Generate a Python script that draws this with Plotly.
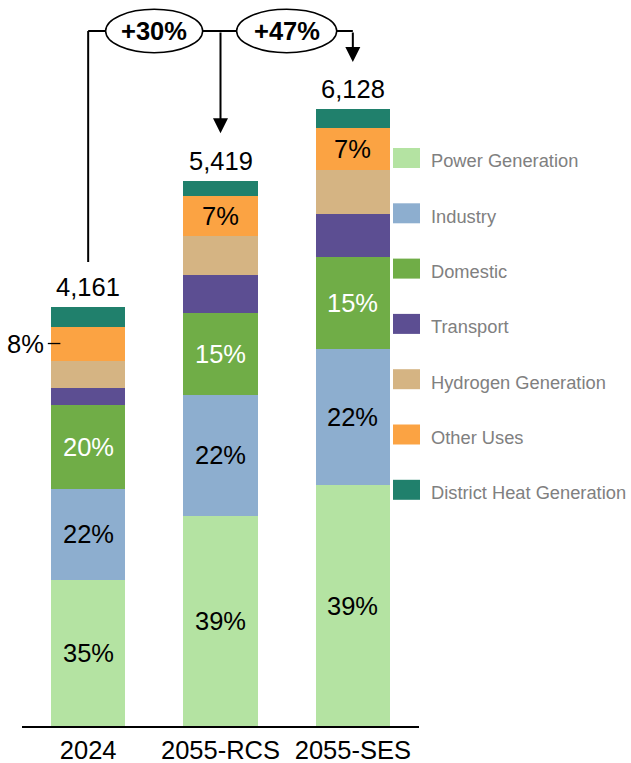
import plotly.graph_objects as go

# ---------------- data ----------------
categories = ["2024", "2055-RCS", "2055-SES"]
series_names = ["Power Generation", "Industry", "Domestic", "Transport",
                "Hydrogen Generation", "Other Uses", "District Heat Generation"]
power = [1455, 2091, 2390]
industry = [901, 1202, 1351]
domestic = [835, 808, 917]
transport = [172, 382, 427]
hydrogen = [268, 390, 441]
other_uses = [338, 394, 413]
district_heat = [192, 152, 189]
totals = [4161, 5419, 6128]
total_labels = ["4,161", "5,419", "6,128"]
power_labels = ["35%", "39%", "39%"]
industry_labels = ["22%", "22%", "22%"]
domestic_labels = ["20%", "15%", "15%"]
other_labels = ["8%", "7%", "7%"]
growth_labels = ["+30%", "+47%"]

# ---------------- style ----------------
colors = ["#b4e3a2", "#8daecf", "#70ad47", "#5c4e92", "#d5b483", "#fba343", "#20806c"]
FONT = "Arial, Liberation Sans, Helvetica, sans-serif"
FS = 25.5
W, H = 631, 763
ML, MR, MT, MB = 22, 212, 0, 37
PH = H - MT - MB
YMAX = 7213

series = [power, industry, domestic, transport, hydrogen, other_uses, district_heat]

fig = go.Figure()
for name, vals, col in zip(series_names, series, colors):
    fig.add_trace(go.Bar(x=categories, y=vals, name=name, marker=dict(color=col, line=dict(width=0)),
                         width=0.56, showlegend=False, hoverinfo="x+y+name"))

annotations = []
shapes = []

# segment labels
inside_specs = [(0, power_labels, "black"), (1, industry_labels, "black"),
                (2, domestic_labels, "white"), (5, other_labels, "black")]
for si, labels, tcol in inside_specs:
    for ci in range(len(categories)):
        base = sum(series[k][ci] for k in range(si))
        mid = base + series[si][ci] / 2
        if si == 5 and ci == 0:
            # outside label with leader line
            annotations.append(dict(x=-0.32, y=mid, xref="x", yref="y", text=labels[ci],
                                    showarrow=False, xanchor="right", yanchor="middle",
                                    font=dict(family=FONT, size=FS, color="black")))
            shapes.append(dict(type="line", xref="x", yref="y", x0=-0.305, x1=-0.21, y0=mid, y1=mid,
                               line=dict(color="black", width=1.3)))
            continue
        annotations.append(dict(x=ci, y=mid, xref="x", yref="y", text=labels[ci], showarrow=False,
                                xanchor="center", yanchor="middle",
                                font=dict(family=FONT, size=FS, color=tcol)))

# totals
for ci in range(len(categories)):
    annotations.append(dict(x=ci, y=totals[ci], xref="x", yref="y", text=total_labels[ci],
                            showarrow=False, xanchor="center", yanchor="bottom", yshift=4,
                            font=dict(family=FONT, size=FS, color="black")))

# growth bracket
LEVEL = 6905
GAP = 460
shapes.append(dict(type="line", xref="x", yref="y", x0=0, x1=0, y0=totals[0] + 449, y1=LEVEL,
                   line=dict(color="black", width=2)))
shapes.append(dict(type="line", xref="x", yref="y", x0=0, x1=2, y0=LEVEL, y1=LEVEL,
                   line=dict(color="black", width=2)))
for ci in (1, 2):
    annotations.append(dict(x=ci, y=totals[ci] + GAP + 10, xref="x", yref="y", ax=ci, ay=LEVEL,
                            axref="x", ayref="y", text="", showarrow=True, arrowhead=2,
                            arrowsize=1.5, arrowwidth=2, arrowcolor="black"))
ell = [(0.132, 0.865), (1.122, 1.878)]
for (x0, x1), lab in zip(ell, growth_labels):
    shapes.append(dict(type="circle", xref="x", yref="y", x0=x0, x1=x1, y0=6690, y1=7120,
                       fillcolor="white", line=dict(color="black", width=1.5), layer="above"))
    annotations.append(dict(x=(x0 + x1) / 2, y=LEVEL, xref="x", yref="y", text="<b>%s</b>" % lab,
                            showarrow=False, xanchor="center", yanchor="middle",
                            font=dict(family=FONT, size=FS, color="black")))

# manual legend (top to bottom)
PW = W - ML - MR
def px_x(x):
    return (x - ML) / PW
def px_y(y):
    return (H - MB - y) / PH
for i, (name, col) in enumerate(zip(series_names, colors)):
    yc = 158 + 55.3 * i
    shapes.append(dict(type="rect", xref="paper", yref="paper", x0=px_x(393), x1=px_x(420),
                       y0=px_y(yc + 10), y1=px_y(yc - 10), fillcolor=col, line=dict(width=0)))
    annotations.append(dict(x=px_x(429), y=px_y(yc + 3), xref="paper", yref="paper", text=name,
                            showarrow=False, xanchor="left", yanchor="middle",
                            font=dict(family=FONT, size=18.3, color="#808080")))

fig.update_layout(
    barmode="stack",
    width=W, height=H,
    margin=dict(l=ML, r=MR, t=MT, b=MB, pad=0),
    plot_bgcolor="white", paper_bgcolor="white",
    annotations=annotations, shapes=shapes,
    showlegend=False,
    xaxis=dict(type="category", range=[-0.5, 2.5], showline=True, linecolor="black", linewidth=2,
               ticks="", showgrid=False, tickfont=dict(family=FONT, size=FS, color="black")),
    yaxis=dict(range=[0, YMAX], visible=False, showgrid=False),
)

fig.write_html("out.html", config={"displayModeBar": False},
               post_script="document.body.style.margin='0';document.body.style.overflow='hidden';")
